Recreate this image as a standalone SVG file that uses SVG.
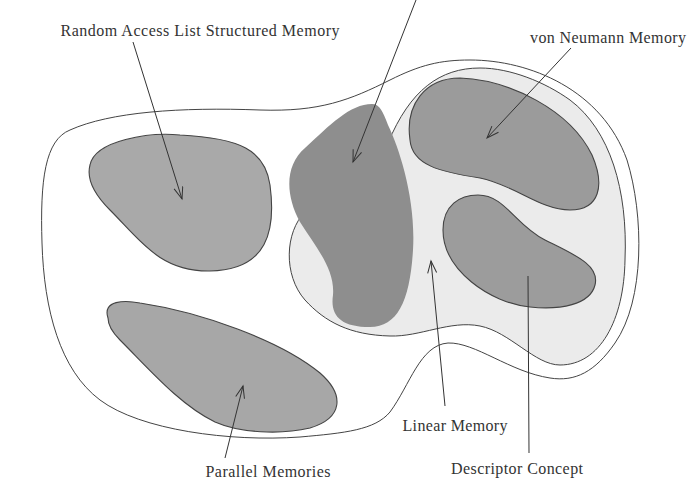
<svg xmlns="http://www.w3.org/2000/svg" width="696" height="486" viewBox="0 0 696 486">
<defs>
<marker id="arr" markerUnits="userSpaceOnUse" markerWidth="16" markerHeight="12" refX="13" refY="5" orient="auto">
<path d="M1,0.5 L13,5 L1,9.5" fill="none" stroke="#333" stroke-width="1"/>
</marker>
<style>
.line{fill:none;stroke:#444;stroke-width:1}
.blob{stroke:#444;stroke-width:1.1}
.conn{fill:none;stroke:#333;stroke-width:1}
text{font-family:"Liberation Serif","Times New Roman",serif;font-size:16px;fill:#333;text-anchor:middle}
</style>
</defs>
<rect width="696" height="486" fill="#fff"/>
<g id="outer">
<path class="line" d="M42,243 C40,180 45,140 70,130 C110,112 180,107 260,110 C320,112 350,100 390,80 C420,65 440,60 470,60 C530,60 602,90 627,160 C644,215 645,300 615,343 C595,372 575,382 550,378 C510,372 475,342 448,343 C420,345 410,385 390,412 C375,430 345,433 300,437 C230,442 140,430 100,400 C60,370 44,310 42,243 Z"/>
</g>
<g id="linear-memory">
<path d="M305,212 C285,232 283,275 305,300 C325,322 350,335 390,336 C420,337 450,320 480,326 C510,332 535,365 560,365 C600,365 624,320 625,260 C628,190 610,130 570,100 C545,82 510,68 480,68 C440,68 410,90 388,143 L340,180 Z" fill="#ebebeb" stroke="#444" stroke-width="1"/>
</g>
<g id="random-access">
<path class="blob" fill="#a9a9a9" d="M90,165 C95,140 150,132 180,135 C240,138 265,150 270,185 C276,230 268,270 210,271 C160,272 140,240 110,210 C95,195 86,180 90,165 Z"/>
</g>
<g id="parallel">
<path class="blob" fill="#a7a7a7" d="M108,318 C102,300 125,300 140,303 C200,312 280,340 320,373 C345,395 343,418 310,428 C280,435 240,433 215,422 C180,405 150,370 120,340 C112,332 108,325 108,318 Z"/>
</g>
<g id="von-neumann">
<path class="blob" fill="#9b9b9b" d="M410,140 C405,105 425,78 460,78 C510,80 570,110 592,155 C605,185 600,210 570,210 C540,210 515,185 480,178 C440,172 412,165 410,140 Z"/>
</g>
<g id="descriptor">
<path class="blob" fill="#9c9c9c" d="M443,230 C443,205 460,195 478,195 C505,195 515,225 545,240 C575,255 600,265 595,285 C590,305 560,310 530,307 C490,303 443,270 443,230 Z"/>
</g>
<g id="middle">
<path fill="#8e8e8e" d="M372,104 C350,104 330,125 305,148 C285,165 285,195 300,222 C318,250 335,270 333,295 C330,315 340,327 370,327 C398,327 410,300 413,250 C416,200 400,150 388,125 C383,112 380,104 372,104 Z"/>
</g>
<g id="connectors">
<line class="conn" x1="133" y1="42" x2="182" y2="199" marker-end="url(#arr)"/>
<line class="conn" x1="416" y1="0" x2="353" y2="162" marker-end="url(#arr)"/>
<line class="conn" x1="571" y1="48" x2="487" y2="138" marker-end="url(#arr)"/>
<line class="conn" x1="225" y1="458" x2="243" y2="386" marker-end="url(#arr)"/>
<line class="conn" x1="445" y1="406" x2="431" y2="261" marker-end="url(#arr)"/>
<line class="conn" x1="529" y1="453" x2="528" y2="276"/>
</g>
<g id="labels">
<text x="200" y="36" textLength="279" lengthAdjust="spacing">Random Access List Structured Memory</text>
<text x="608" y="43" textLength="156" lengthAdjust="spacing">von Neumann Memory</text>
<text x="268" y="477" textLength="125" lengthAdjust="spacing">Parallel Memories</text>
<text x="455" y="431" textLength="105" lengthAdjust="spacing">Linear Memory</text>
<text x="517" y="474" textLength="132" lengthAdjust="spacing">Descriptor Concept</text>
</g>
</svg>
